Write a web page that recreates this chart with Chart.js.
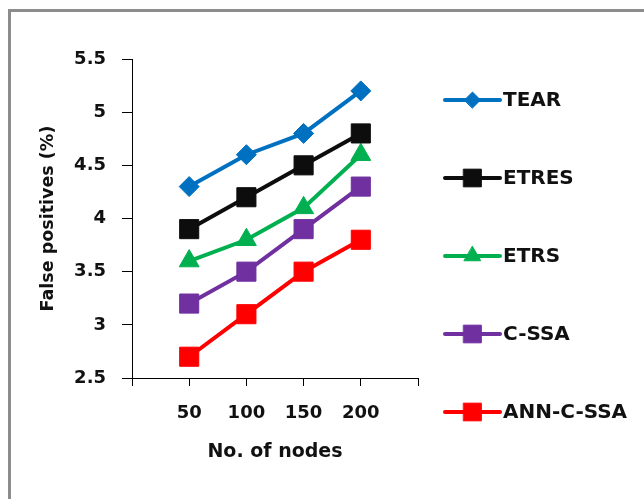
<!DOCTYPE html>
<html>
<head>
<meta charset="utf-8">
<script src="https://cdn.jsdelivr.net/npm/chart.js@4/dist/chart.umd.min.js"></script>
<style>
  html, body { margin: 0; padding: 0; background: #fff; }
  #wrap { position: relative; width: 644px; height: 499px; overflow: hidden; }
  #frame { position: absolute; left: 8px; top: 9px; width: 700px; height: 600px;
           border-top: 3px solid #8c8c8c; border-left: 3px solid #8c8c8c; pointer-events: none; }
  canvas { position: absolute; left: 0; top: 0; }
</style>
</head>
<body>
<div id="wrap">
  <canvas id="c" width="644" height="499"></canvas>
  <div id="frame"></div>
</div>
<script>
const nodes = [50, 100, 150, 200];
const tear = [4.3, 4.6, 4.8, 5.2];
const etres = [3.9, 4.2, 4.5, 4.8];
const etrs = [3.6, 3.8, 4.1, 4.6];
const cssa = [3.2, 3.5, 3.9, 4.3];
const annCssa = [2.7, 3.1, 3.5, 3.8];
const seriesNames = ['TEAR', 'ETRES', 'ETRS', 'C-SSA', 'ANN-C-SSA'];
const yTicks = [2.5, 3, 3.5, 4, 4.5, 5, 5.5];

const FONT = '"DejaVu Sans", sans-serif';

function pts(vals) { return nodes.map((n, i) => ({ x: n, y: vals[i] })); }

function ds(label, vals, color, style, radius, legendRadius) {
  return {
    label, data: pts(vals),
    borderColor: color, backgroundColor: color,
    pointBackgroundColor: color, pointBorderColor: color,
    borderWidth: 4, pointStyle: style, pointRadius: radius, pointHoverRadius: radius,
    pointBorderWidth: 1, tension: 0, legendRadius
  };
}

const legendPlugin = {
  id: 'sideLegend',
  afterDraw(chart) {
    const ctx = chart.ctx;
    const x0 = 445, x1 = 500, ys = [100, 178, 256, 334, 412];
    chart.data.datasets.forEach((d, i) => {
      const y = ys[i];
      ctx.save();
      ctx.strokeStyle = d.borderColor;
      ctx.lineWidth = 4;
      ctx.lineCap = 'round';
      ctx.beginPath(); ctx.moveTo(x0, y); ctx.lineTo(x1, y); ctx.stroke();
      ctx.fillStyle = d.backgroundColor;
      ctx.strokeStyle = d.borderColor;
      ctx.lineWidth = 1;
      Chart.helpers.drawPoint(ctx, { pointStyle: d.pointStyle, radius: d.legendRadius, rotation: 0, borderWidth: 1 }, (x0 + x1) / 2, y);
      ctx.fillStyle = '#111';
      ctx.font = 'bold 20px ' + FONT;
      ctx.textBaseline = 'middle';
      ctx.textAlign = 'left';
      ctx.fillText(d.label, 503, y + 1);
      ctx.restore();
    });
  }
};

new Chart(document.getElementById('c'), {
  type: 'line',
  data: {
    datasets: [
      ds(seriesNames[0], tear, '#0070C0', 'rectRot', 10, 8),
      ds(seriesNames[1], etres, '#0d0d0d', 'rect', 13.5, 12.5),
      ds(seriesNames[2], etrs, '#00B050', 'triangle', 11.5, 9.5),
      ds(seriesNames[3], cssa, '#7030A0', 'rect', 13.5, 12.5),
      ds(seriesNames[4], annCssa, '#FF0000', 'rect', 13.5, 12.5)
    ]
  },
  options: {
    responsive: false,
    animation: false,
    layout: { padding: { left: 0, right: 226, top: 59, bottom: 0 } },
    plugins: { legend: { display: false }, tooltip: { enabled: false } },
    scales: {
      x: {
        type: 'linear', min: 0, max: 250,
        afterFit: s => { s.height = 499 - 378; },
        afterBuildTicks: s => { s.ticks = [0, 50, 100, 150, 200, 250].map(v => ({ value: v })); },
        ticks: {
          callback: v => nodes.includes(v) ? String(v) : '',
          color: '#111', padding: 17, maxRotation: 0, autoSkip: false,
          font: { family: FONT, size: 18, weight: 'bold' }
        },
        grid: { drawOnChartArea: false, drawTicks: true, tickLength: 8, color: '#000', tickWidth: 1 },
        border: { display: true, color: '#000', width: 1 },
        title: { display: true, text: 'No. of nodes', color: '#111',
                 font: { family: FONT, size: 19, weight: 'bold' }, padding: { bottom: 36, top: 0 } }
      },
      y: {
        type: 'linear', min: 2.5, max: 5.5,
        afterFit: s => { s.width = 132; },
        afterBuildTicks: s => { s.ticks = yTicks.map(v => ({ value: v })); },
        ticks: {
          callback: v => String(v),
          color: '#111', padding: 16,
          font: { family: FONT, size: 18, weight: 'bold' }
        },
        grid: { drawOnChartArea: false, drawTicks: true, tickLength: 10, color: '#000', tickWidth: 1 },
        border: { display: true, color: '#000', width: 1 },
        title: { display: true, text: 'False positives (%)', color: '#111',
                 font: { family: FONT, size: 17.5, weight: 'bold' }, padding: { top: 38, bottom: 0 } }
      }
    }
  },
  plugins: [legendPlugin]
});
</script>
</body>
</html>
